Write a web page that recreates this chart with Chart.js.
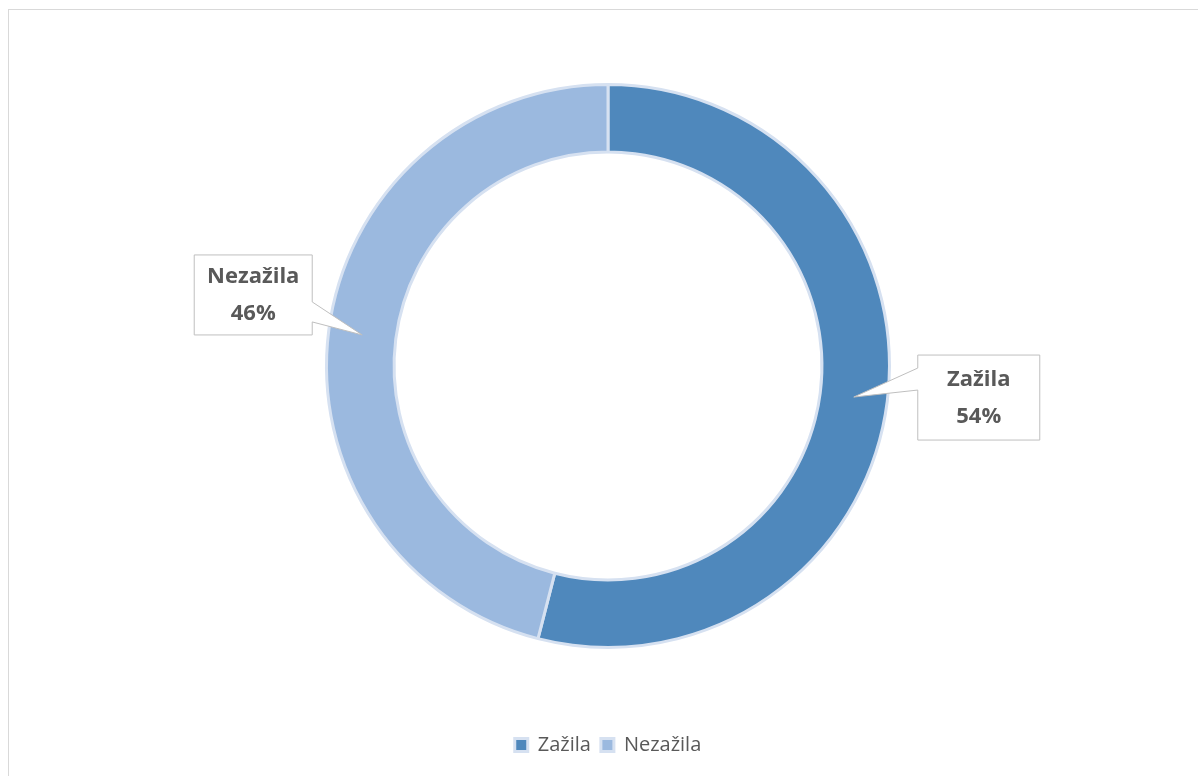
<!DOCTYPE html>
<html>
<head>
<meta charset="utf-8">
<script src="https://cdn.jsdelivr.net/npm/chart.js@4/dist/chart.umd.min.js"></script>
<style>
  body { margin: 0; background: #fff; overflow: hidden; }
  #frame {
    position: absolute; left: 8px; top: 9px;
    width: 1220px; height: 800px;
    border-top: 1px solid #d9d9d9; border-left: 1px solid #d9d9d9;
  }
  #wrap { position: absolute; left: 0; top: 0; width: 1198px; height: 766px; }
</style>
</head>
<body>
<div id="frame"><div id="wrap"><canvas id="chart"></canvas></div></div>
<script>
// data
const labels = ['Zažila', 'Nezažila'];
const values = [54, 46];
const colors = ['#4f88bc', '#9bb9df'];

// callouts: box drawn next to each slice, tip at the arc centroid
const calloutPlugin = {
  id: 'callouts',
  afterDatasetsDraw(chart) {
    const ctx = chart.ctx;
    const meta = chart.getDatasetMeta(0);
    const total = values.reduce((a, b) => a + b, 0);
    meta.data.forEach((arc, i) => {
      const tip = arc.tooltipPosition();
      let L, T, W, H;
      ctx.save();
      ctx.beginPath();
      if (i === 0) {
        W = 122; H = 85;
        L = tip.x + 64; T = tip.y - 42;
        ctx.moveTo(L, T);
        ctx.lineTo(L + W, T);
        ctx.lineTo(L + W, T + H);
        ctx.lineTo(L, T + H);
        ctx.lineTo(L, T + 35);
        ctx.lineTo(tip.x, tip.y);
        ctx.lineTo(L, T + 13);
      } else {
        W = 118; H = 80;
        L = tip.x - 50 - W; T = tip.y - 80;
        ctx.moveTo(L, T);
        ctx.lineTo(L + W, T);
        ctx.lineTo(L + W, T + 47);
        ctx.lineTo(tip.x, tip.y);
        ctx.lineTo(L + W, T + 67);
        ctx.lineTo(L + W, T + H);
        ctx.lineTo(L, T + H);
      }
      ctx.closePath();
      ctx.fillStyle = '#ffffff';
      ctx.fill();
      ctx.lineWidth = 1;
      ctx.strokeStyle = '#bfbfbf';
      ctx.stroke();

      const pct = Math.round(values[i] / total * 100) + '%';
      ctx.fillStyle = '#595959';
      ctx.font = 'bold 22px "Open Sans", sans-serif';
      ctx.textAlign = 'center';
      ctx.textBaseline = 'middle';
      ctx.fillText(labels[i], L + W / 2, T + H / 2 - 18);
      ctx.fillText(pct, L + W / 2, T + H / 2 + 19);
      ctx.restore();
    });
  }
};

new Chart(document.getElementById('chart'), {
  type: 'doughnut',
  data: {
    labels: labels,
    datasets: [{
      data: values,
      backgroundColor: colors,
      borderColor: '#d6e1f1',
      borderWidth: 3,
      hoverOffset: 0
    }]
  },
  options: {
    responsive: true,
    maintainAspectRatio: false,
    animation: false,
    cutout: '76%',
    layout: { padding: { top: 73, bottom: 11, left: 0, right: 0 } },
    plugins: {
      tooltip: { enabled: false },
      legend: {
        position: 'bottom',
        title: { display: true, text: ' ', padding: { top: 0, bottom: 61.6 } },
        labels: {
          boxWidth: 13,
          boxHeight: 13,
          padding: 10,
          color: '#595959',
          font: { family: '"Open Sans", sans-serif', size: 20 }
        }
      }
    }
  },
  plugins: [calloutPlugin]
});
</script>
</body>
</html>
